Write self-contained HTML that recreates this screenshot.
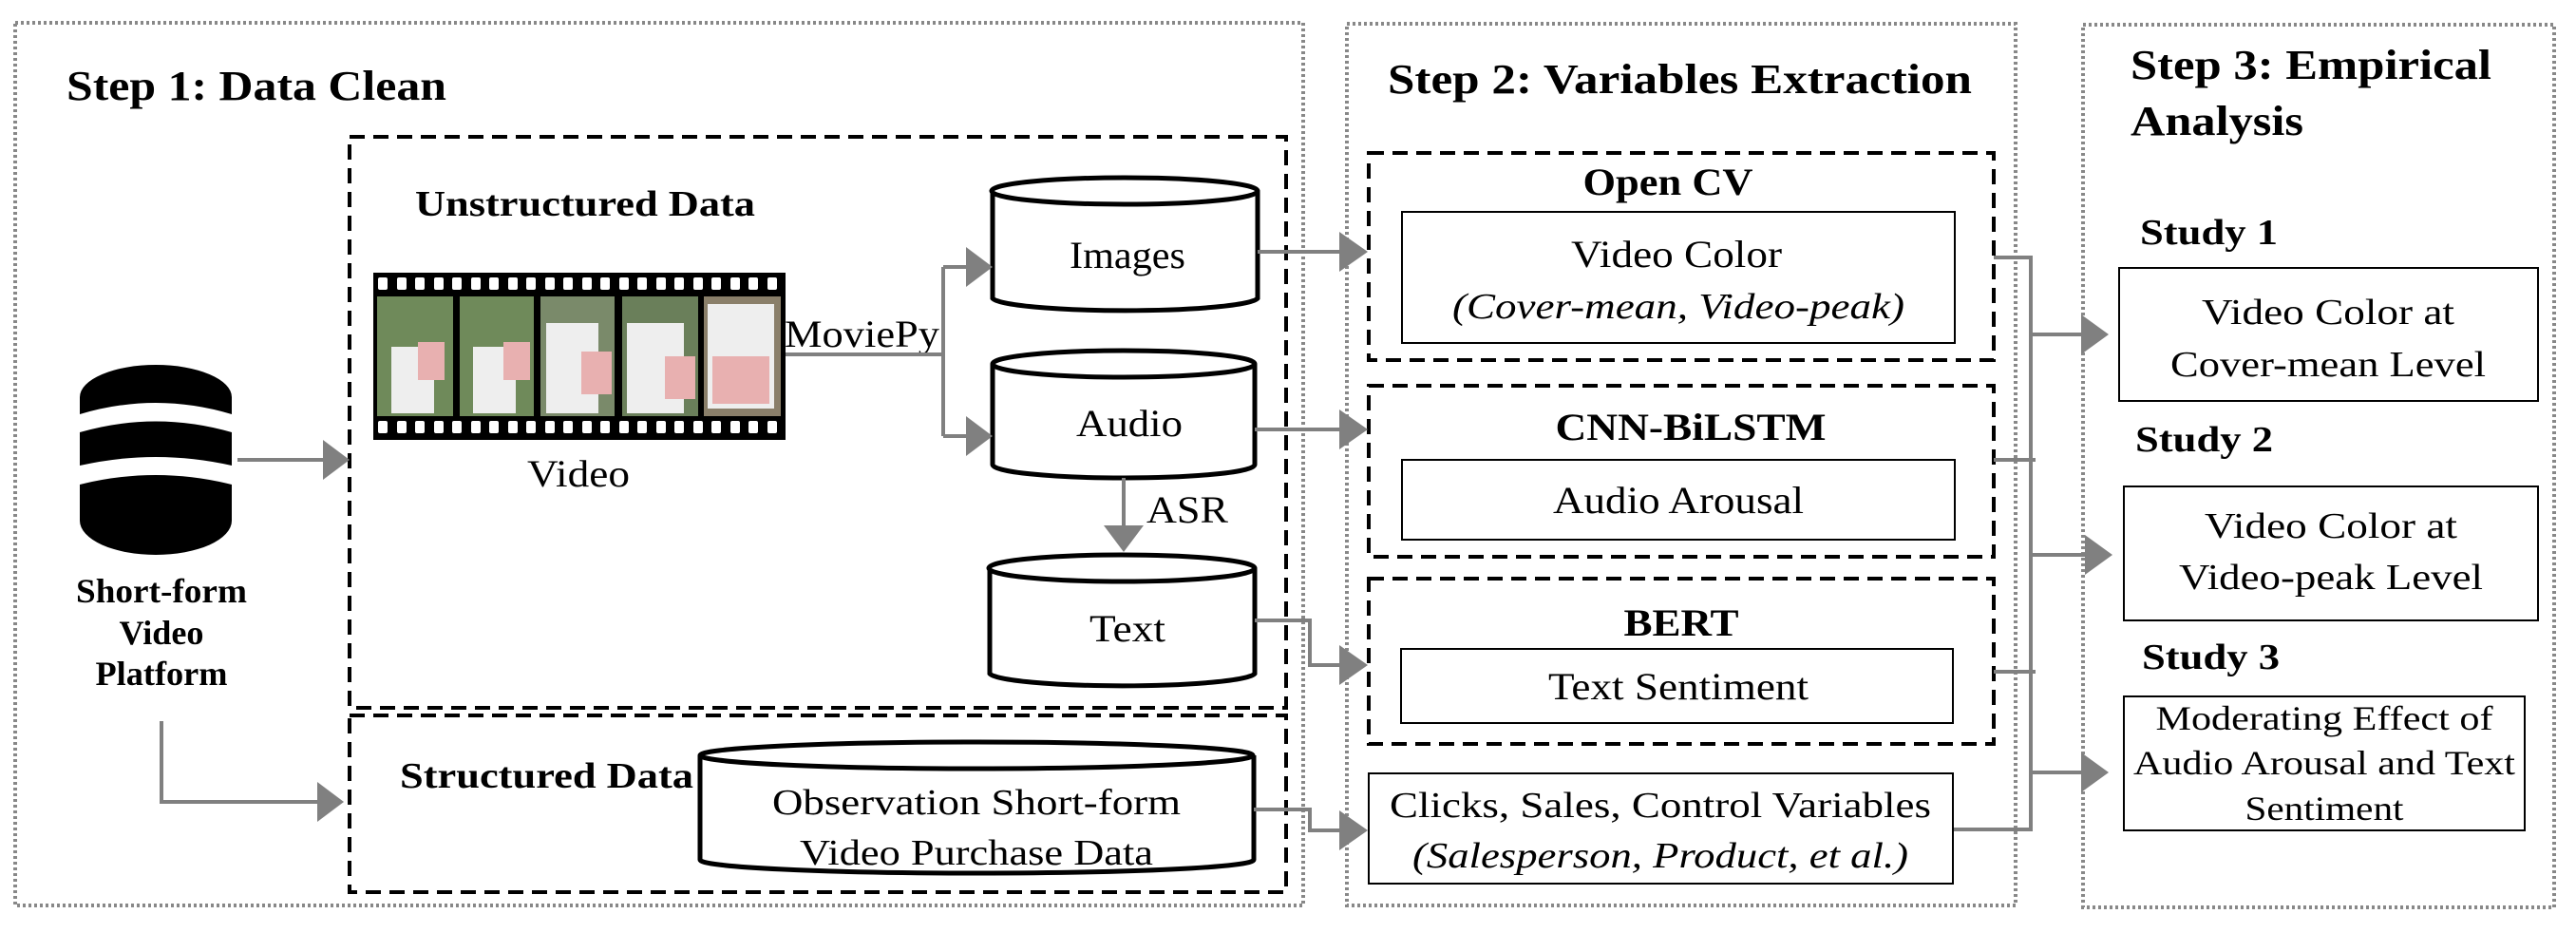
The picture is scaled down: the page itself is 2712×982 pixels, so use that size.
<!DOCTYPE html>
<html><head><meta charset="utf-8"><style>
html,body{margin:0;padding:0;background:#fff;}
svg{display:block;}
text{font-family:"Liberation Serif","Times New Roman",serif;fill:#000;}
.b{font-weight:bold;}
</style></head><body>
<svg width="2712" height="982" viewBox="0 0 2712 982" xmlns="http://www.w3.org/2000/svg">
<!-- outer dotted boxes -->
<g fill="none" stroke="#888" stroke-width="4" stroke-dasharray="3,3">
<rect x="16" y="24" width="1356" height="929"/>
<rect x="1418" y="25" width="704" height="928"/>
<rect x="2193" y="26" width="496" height="929"/>
</g>
<!-- titles -->
<text class="b" x="70" y="105" font-size="44" textLength="400" lengthAdjust="spacingAndGlyphs">Step 1: Data Clean</text>
<text class="b" x="1461" y="98" font-size="44" textLength="615" lengthAdjust="spacingAndGlyphs">Step 2: Variables Extraction</text>
<text class="b" x="2243" y="83" font-size="44" textLength="380" lengthAdjust="spacingAndGlyphs">Step 3: Empirical</text>
<text class="b" x="2243" y="142" font-size="44" textLength="182" lengthAdjust="spacingAndGlyphs">Analysis</text>

<!-- dashed boxes -->
<g fill="none" stroke="#000" stroke-width="4" stroke-dasharray="16,9">
<rect x="368" y="144" width="986" height="601"/>
<rect x="368" y="753" width="986" height="186"/>
<rect x="1441" y="161" width="658" height="218"/>
<rect x="1441" y="406" width="658" height="180"/>
<rect x="1441" y="609" width="658" height="174"/>
</g>

<text class="b" x="437" y="227" font-size="38" textLength="358" lengthAdjust="spacingAndGlyphs">Unstructured Data</text>
<text class="b" x="421" y="829" font-size="38" textLength="309" lengthAdjust="spacingAndGlyphs">Structured Data</text>

<!-- database icon -->
<g fill="#000">
<path d="M84 548 L84 510 Q164 490 244 510 L244 548 A80 36 0 0 1 84 548 Z"/>
<path d="M84 490 L84 455 Q164 432 244 455 L244 490 Q164 472 84 490 Z"/>
<path d="M84 436 L84 418 A80 34 0 0 1 244 418 L244 436 Q164 412 84 436 Z"/>
</g>
<text class="b" x="170" y="634" font-size="36" text-anchor="middle" textLength="180" lengthAdjust="spacingAndGlyphs">Short-form</text>
<text class="b" x="170" y="678" font-size="36" text-anchor="middle" textLength="89" lengthAdjust="spacingAndGlyphs">Video</text>
<text class="b" x="170" y="721" font-size="36" text-anchor="middle" textLength="139" lengthAdjust="spacingAndGlyphs">Platform</text>

<!-- film strip -->
<rect x="393" y="287" width="434" height="176" fill="#000"/>
<g>
<rect x="397" y="312" width="80" height="126" fill="#6f8a5a"/>
<rect x="484" y="312" width="78" height="126" fill="#6f8a5a"/>
<rect x="569" y="312" width="78" height="126" fill="#7a8a6a"/>
<rect x="655" y="312" width="80" height="126" fill="#6a7f5a"/>
<rect x="741" y="312" width="81" height="126" fill="#8a7f6a"/>
<rect x="412" y="365" width="45" height="70" fill="#eee"/>
<rect x="498" y="365" width="45" height="70" fill="#eee"/>
<rect x="575" y="340" width="55" height="95" fill="#eee"/>
<rect x="660" y="340" width="60" height="95" fill="#eee"/>
<rect x="745" y="320" width="70" height="110" fill="#eee"/>
<rect x="440" y="360" width="28" height="40" fill="#e8b0b0"/>
<rect x="530" y="360" width="28" height="40" fill="#e8b0b0"/>
<rect x="612" y="370" width="32" height="45" fill="#e8b0b0"/>
<rect x="700" y="375" width="32" height="45" fill="#e8b0b0"/>
<rect x="750" y="375" width="60" height="50" fill="#e8b0b0"/>
</g>
<g fill="#fff" id="holes">
<rect x="398" y="292" width="10" height="13" rx="2"/><rect x="418" y="292" width="10" height="13" rx="2"/><rect x="437" y="292" width="10" height="13" rx="2"/><rect x="457" y="292" width="10" height="13" rx="2"/><rect x="476" y="292" width="10" height="13" rx="2"/><rect x="496" y="292" width="10" height="13" rx="2"/><rect x="515" y="292" width="10" height="13" rx="2"/><rect x="535" y="292" width="10" height="13" rx="2"/><rect x="554" y="292" width="10" height="13" rx="2"/><rect x="574" y="292" width="10" height="13" rx="2"/><rect x="593" y="292" width="10" height="13" rx="2"/><rect x="613" y="292" width="10" height="13" rx="2"/><rect x="632" y="292" width="10" height="13" rx="2"/><rect x="652" y="292" width="10" height="13" rx="2"/><rect x="671" y="292" width="10" height="13" rx="2"/><rect x="691" y="292" width="10" height="13" rx="2"/><rect x="710" y="292" width="10" height="13" rx="2"/><rect x="730" y="292" width="10" height="13" rx="2"/><rect x="749" y="292" width="10" height="13" rx="2"/><rect x="769" y="292" width="10" height="13" rx="2"/><rect x="788" y="292" width="10" height="13" rx="2"/><rect x="808" y="292" width="10" height="13" rx="2"/>
</g>
<use href="#holes" y="151"/>
<text x="609" y="512" font-size="40" text-anchor="middle" textLength="108" lengthAdjust="spacingAndGlyphs">Video</text>
<text x="826" y="365" font-size="40" textLength="163" lengthAdjust="spacingAndGlyphs">MoviePy</text>

<!-- cylinders -->
<g fill="#fff" stroke="#000" stroke-width="5">
<path d="M1045 201 L1045 314 A140 14 0 0 0 1324 314 L1324 201"/>
<ellipse cx="1184" cy="201" rx="140" ry="14"/>
<path d="M1045 383 L1045 489 A138 14 0 0 0 1321 489 L1321 383"/>
<ellipse cx="1183" cy="383" rx="138" ry="14"/>
<path d="M1042 598 L1042 709 A140 14 0 0 0 1321 709 L1321 598"/>
<ellipse cx="1181" cy="598" rx="140" ry="14"/>
<path d="M737 795 L737 905 A291 14 0 0 0 1320 905 L1320 795"/>
<ellipse cx="1028" cy="795" rx="291" ry="14"/>
</g>
<text x="1187" y="282" font-size="40" text-anchor="middle" textLength="122" lengthAdjust="spacingAndGlyphs">Images</text>
<text x="1189" y="459" font-size="40" text-anchor="middle" textLength="112" lengthAdjust="spacingAndGlyphs">Audio</text>
<text x="1187" y="675" font-size="40" text-anchor="middle" textLength="80" lengthAdjust="spacingAndGlyphs">Text</text>
<text x="1028" y="857" font-size="38" text-anchor="middle" textLength="430" lengthAdjust="spacingAndGlyphs">Observation Short-form</text>
<text x="1028" y="910" font-size="38" text-anchor="middle" textLength="372" lengthAdjust="spacingAndGlyphs">Video Purchase Data</text>
<text x="1207" y="550" font-size="40" textLength="86" lengthAdjust="spacingAndGlyphs">ASR</text>

<!-- gray connectors -->
<g fill="none" stroke="#808080" stroke-width="4">
<path d="M250 484 H345"/>
<path d="M170 759 V844 H340"/>
<path d="M827 373 H993 M993 281 V459 M993 281 H1022 M993 459 H1022"/>
<path d="M1183 503 V556"/>
<path d="M1324 265 H1415"/>
<path d="M1321 452 H1415"/>
<path d="M1321 653 H1379 V700 H1415"/>
<path d="M1320 852 H1379 V874 H1415"/>
<path d="M2099 271 H2138 V873 H2056"/>
<path d="M2099 484 H2143 M2099 707 H2143"/>
<path d="M2138 352 H2196 M2138 584 H2200 M2138 813 H2196"/>
</g>
<g fill="#808080">
<polygon points="368,484 340,463 340,505"/>
<polygon points="362,844 334,823 334,865"/>
<polygon points="1045,281 1017,260 1017,302"/>
<polygon points="1045,459 1017,438 1017,480"/>
<polygon points="1183,581 1162,553 1204,553"/>
<polygon points="1440,265 1410,244 1410,286"/>
<polygon points="1440,452 1410,431 1410,473"/>
<polygon points="1440,700 1410,679 1410,721"/>
<polygon points="1440,874 1410,853 1410,895"/>
<polygon points="2220,352 2191,331 2191,373"/>
<polygon points="2224,584 2195,563 2195,605"/>
<polygon points="2220,813 2191,792 2191,834"/>
</g>

<!-- step 2 boxes -->
<g fill="#fff" stroke="#000" stroke-width="2">
<rect x="1476" y="223" width="582" height="138"/>
<rect x="1476" y="484" width="582" height="84"/>
<rect x="1475" y="683" width="581" height="78"/>
<rect x="1441" y="814" width="615" height="116"/>
<rect x="2231" y="282" width="441" height="140"/>
<rect x="2236" y="512" width="436" height="141"/>
<rect x="2236" y="733" width="422" height="141"/>
</g>
<text class="b" x="1756" y="205" font-size="40" text-anchor="middle" textLength="179" lengthAdjust="spacingAndGlyphs">Open CV</text>
<text x="1765" y="281" font-size="40" text-anchor="middle" textLength="222" lengthAdjust="spacingAndGlyphs">Video Color</text>
<text x="1767" y="335" font-size="38" text-anchor="middle" font-style="italic" textLength="476" lengthAdjust="spacingAndGlyphs">(Cover-mean, Video-peak)</text>
<text class="b" x="1780" y="463" font-size="40" text-anchor="middle" textLength="285" lengthAdjust="spacingAndGlyphs">CNN-BiLSTM</text>
<text x="1767" y="540" font-size="40" text-anchor="middle" textLength="264" lengthAdjust="spacingAndGlyphs">Audio Arousal</text>
<text class="b" x="1770" y="669" font-size="40" text-anchor="middle" textLength="121" lengthAdjust="spacingAndGlyphs">BERT</text>
<text x="1767" y="736" font-size="40" text-anchor="middle" textLength="274" lengthAdjust="spacingAndGlyphs">Text Sentiment</text>
<text x="1748" y="860" font-size="38" text-anchor="middle" textLength="570" lengthAdjust="spacingAndGlyphs">Clicks, Sales, Control Variables</text>
<text x="1748" y="913" font-size="38" text-anchor="middle" font-style="italic" textLength="522" lengthAdjust="spacingAndGlyphs">(Salesperson, Product, et al.)</text>

<!-- step 3 -->
<text class="b" x="2253" y="257" font-size="38" textLength="145" lengthAdjust="spacingAndGlyphs">Study 1</text>
<text class="b" x="2248" y="475" font-size="38" textLength="145" lengthAdjust="spacingAndGlyphs">Study 2</text>
<text class="b" x="2255" y="704" font-size="38" textLength="145" lengthAdjust="spacingAndGlyphs">Study 3</text>
<text x="2451" y="341" font-size="38" text-anchor="middle" textLength="266" lengthAdjust="spacingAndGlyphs">Video Color at</text>
<text x="2451" y="396" font-size="38" text-anchor="middle" textLength="332" lengthAdjust="spacingAndGlyphs">Cover-mean Level</text>
<text x="2454" y="566" font-size="38" text-anchor="middle" textLength="266" lengthAdjust="spacingAndGlyphs">Video Color at</text>
<text x="2454" y="620" font-size="38" text-anchor="middle" textLength="320" lengthAdjust="spacingAndGlyphs">Video-peak Level</text>
<text x="2447" y="768" font-size="36" text-anchor="middle" textLength="355" lengthAdjust="spacingAndGlyphs">Moderating Effect of</text>
<text x="2447" y="815" font-size="36" text-anchor="middle" textLength="402" lengthAdjust="spacingAndGlyphs">Audio Arousal and Text</text>
<text x="2447" y="863" font-size="36" text-anchor="middle" textLength="167" lengthAdjust="spacingAndGlyphs">Sentiment</text>
</svg>
</body></html>
